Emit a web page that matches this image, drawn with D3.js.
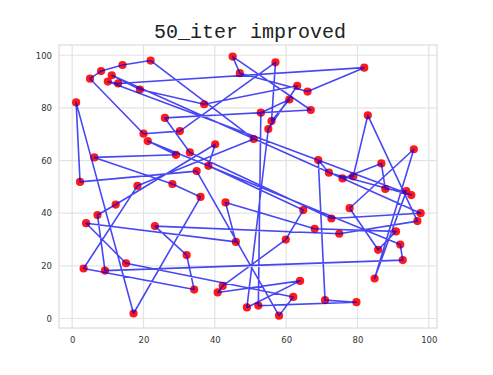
<!DOCTYPE html>
<html><head><meta charset="utf-8">
<script src="https://cdn.jsdelivr.net/npm/d3@7"></script>
<style>body{margin:0;background:#fff;}svg{display:block;}</style>
</head><body>
<svg id="c" width="493" height="375"></svg>
<script>
// City coordinates in tour order (closed tour)
const tourX = [22,14.1,8.1,5,20,30.2,57,55.9,60.9,52.9,52.2,79.7,70.9,69,72,95.1,10,12.9,81.9,66,47,45,66.9,26,33,72.7,97.7,11.1,19,37,63.1,55,49,63.9,40.8,42.2,59.9,64.8,38.2,40.1,12.2,7.1,9.2,92.7,92,21.2,29.1,6.2,28.1,36,17.2,1.1,2.2,34.9,58,62,15.1,3.9,45.9,43,68,90.8,85.8,77.8,95.8,84.8,93.7,87.8,86.7,75.8,78.8,82.9,96.8,74.9,23.2,32.1,34.2,3.2,18.3,50.9];
const tourY = [98,96.3,94,91.1,70.2,71.2,97.3,75,83.2,78.2,4.9,6.2,7,60.2,55.4,46.9,90,89.3,95.3,86.2,93.2,99.5,79.2,76.2,63.1,38,40,92.4,87,81.4,88.4,72,4.2,14.3,9.9,12.4,30,41.2,58,66.2,43.3,39.3,18.2,22.2,28.1,67.4,62.2,61.2,51.1,46.2,1.9,82.1,51.9,56,1.1,8.2,21,36.2,29.1,44.1,34.1,33.1,26.1,41.9,64.3,15.2,48.4,49.2,58.9,53.2,54,77.2,37,32.2,35.1,24.1,11,19,50.4,68.2];
const xTicks = [0,20,40,60,80,100];
const yTicks = [0,20,40,60,80,100];
const titleText = "50_iter improved";

const svg = d3.select("#c");
const L = 59, R = 437, T = 45, B = 328;
const x = d3.scaleLinear().domain([-3.7, 102.3]).range([L, R]);
const y = d3.scaleLinear().domain([-3.6, 103.9]).range([B, T]);

// grid
svg.append("g").selectAll("line").data(xTicks).join("line")
  .attr("x1", d => x(d)).attr("x2", d => x(d)).attr("y1", T).attr("y2", B)
  .attr("stroke", "#e3e3e3").attr("stroke-width", 1.2);
svg.append("g").selectAll("line").data(yTicks).join("line")
  .attr("y1", d => y(d)).attr("y2", d => y(d)).attr("x1", L).attr("x2", R)
  .attr("stroke", "#e3e3e3").attr("stroke-width", 1.2);
// frame
svg.append("rect").attr("x", L).attr("y", T).attr("width", R - L).attr("height", B - T)
  .attr("fill", "none").attr("stroke", "#dcdcdc").attr("stroke-width", 1.2);

// axes labels via d3 axes (no tick lines/domain)
const xa = svg.append("g").attr("transform", `translate(0,${B})`)
  .call(d3.axisBottom(x).tickValues(xTicks).tickSize(0).tickPadding(9));
const ya = svg.append("g").attr("transform", `translate(${L},0)`)
  .call(d3.axisLeft(y).tickValues(yTicks).tickSize(0).tickPadding(7));
[xa, ya].forEach(g => {
  g.select(".domain").remove();
  g.selectAll("text").attr("font-family", "DejaVu Sans, sans-serif").attr("font-size", 8.5).attr("fill", "#333");
});

// points
const pts = tourX.map((v, i) => [v, tourY[i]]);
svg.append("g").selectAll("circle").data(pts).join("circle")
  .attr("cx", d => x(d[0])).attr("cy", d => y(d[1])).attr("r", 4.1)
  .attr("fill", "#ff0000").attr("fill-opacity", 0.9);

// tour line (closed)
const line = d3.line().x(d => x(d[0])).y(d => y(d[1]));
svg.append("path").datum(pts.concat([pts[0]])).attr("d", line)
  .attr("fill", "none").attr("stroke", "#0000ee").attr("stroke-opacity", 0.72)
  .attr("stroke-width", 1.6).attr("stroke-linejoin", "round");

// title
svg.append("text").attr("x", 250).attr("y", 38).attr("text-anchor", "middle")
  .attr("font-family", "Liberation Mono, monospace").attr("font-size", 20).attr("fill", "#222")
  .text(titleText);
</script>
</body></html>
